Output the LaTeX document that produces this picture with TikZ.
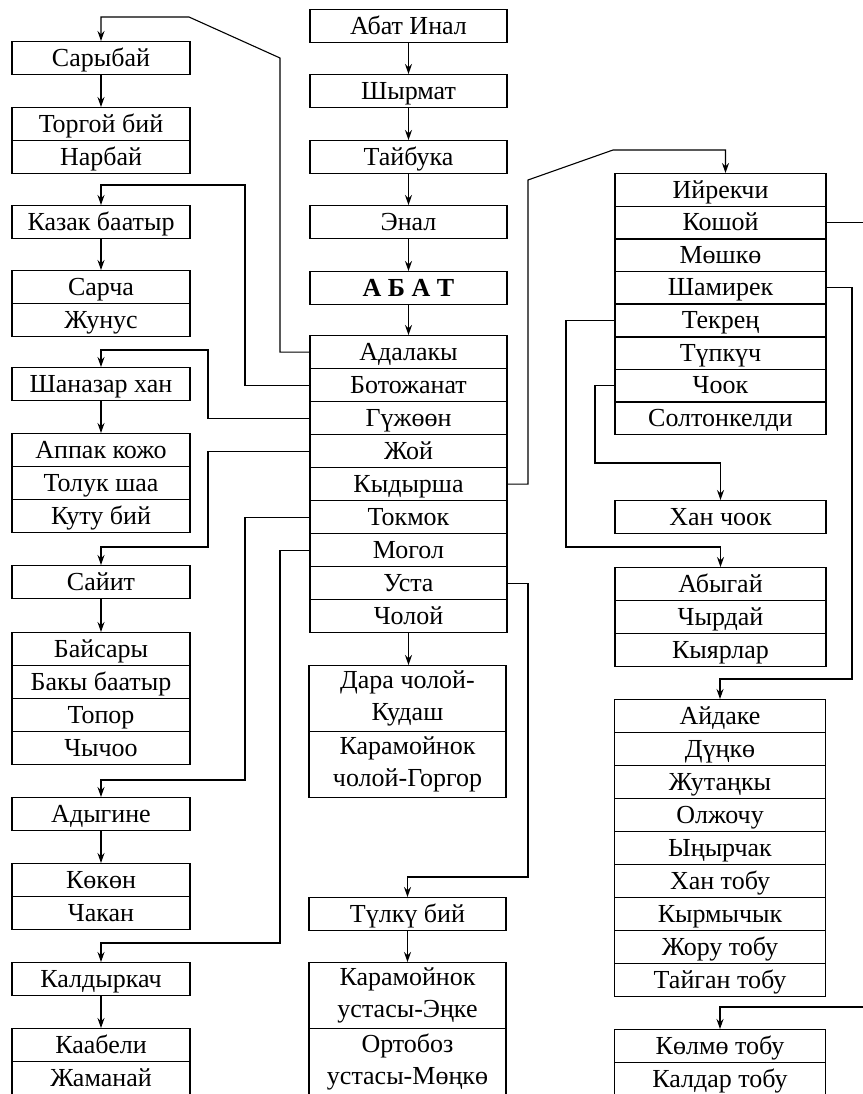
\documentclass[tikz,border=0pt]{standalone}
\usepackage{fontspec}
\setmainfont{Liberation Serif}
\usetikzlibrary{arrows.meta}
\begin{document}
\begin{tikzpicture}[x=1pt,y=-1pt,
  base/.style={draw, line width=1.1pt, anchor=north, inner sep=0pt},
  cell/.style={base, minimum height=33pt, text height=19pt, text depth=3pt, font=\fontsize{26}{28}\selectfont},
  lcell/.style={cell, minimum width=178pt},
  ccell/.style={cell, minimum width=197pt},
  rcell/.style={cell, minimum width=211pt},
  tallcell/.style={base, minimum width=197pt, minimum height=66pt, align=center, font=\fontsize{26}{32}\selectfont},
  conn/.style={line width=1.1pt, -{Stealth[length=10pt,width=7pt]}}]
\useasboundingbox (0,0) rectangle (862,1094);
% left column
\node[lcell] (sarybai) at (101,41) {Сарыбай};
\node[lcell] (torgoi) at (101,107) {Торгой бий};
\node[lcell] (narbai) at (101,140) {Нарбай};
\node[lcell] (kazak) at (101,205) {Казак баатыр};
\node[lcell] (sarcha) at (101,270) {Сарча};
\node[lcell] (zhunus) at (101,303) {Жунус};
\node[lcell] (shanazar) at (101,367) {Шаназар хан};
\node[lcell] (appak) at (101,433) {Аппак кожо};
\node[lcell] (toluk) at (101,466) {Толук шаа};
\node[lcell] (kutu) at (101,499) {Куту бий};
\node[lcell] (saiyt) at (101,565) {Сайит};
\node[lcell] (baisary) at (101,632) {Байсары};
\node[lcell] (baky) at (101,665) {Бакы баатыр};
\node[lcell] (topor) at (101,698) {Топор};
\node[lcell] (chychoo) at (101,731) {Чычоо};
\node[lcell] (adygine) at (101,797) {Адыгине};
\node[lcell] (kokon) at (101,863) {Көкөн};
\node[lcell] (chakan) at (101,896) {Чакан};
\node[lcell] (kaldyrkach) at (101,962) {Калдыркач};
\node[lcell] (kaabeli) at (101,1028) {Каабели};
\node[lcell] (zhamanai) at (101,1061) {Жаманай};
% centre column
\node[ccell] (abatinal) at (408.5,9) {Абат Инал};
\node[ccell] (shyrmat) at (408.5,74) {Шырмат};
\node[ccell] (taibuka) at (408.5,140) {Тайбука};
\node[ccell] (enal) at (408.5,205) {Энал};
\node[ccell] (abat) at (408.5,271) {\textbf{А Б А Т}};
\node[ccell] (adalaky) at (408.5,335) {Адалакы};
\node[ccell] (botozhanat) at (408.5,368) {Ботожанат};
\node[ccell] (guzhoon) at (408.5,401) {Гүжөөн};
\node[ccell] (zhoi) at (408.5,434) {Жой};
\node[ccell] (kydyrsha) at (408.5,467) {Кыдырша};
\node[ccell] (tokmok) at (408.5,500) {Токмок};
\node[ccell] (mogol) at (408.5,533) {Могол};
\node[ccell] (usta) at (408.5,566) {Уста};
\node[ccell] (choloi) at (408.5,599) {Чолой};
\node[tallcell] (dara) at (407.5,665) {Дара чолой-\\Кудаш};
\node[tallcell] (gorgor) at (407.5,731) {Карамойнок\\чолой-Горгор};
\node[ccell] (tulku) at (407.5,897) {Түлкү бий};
\node[tallcell] (enke) at (407.5,962) {Карамойнок\\устасы-Эңке};
\node[tallcell] (monko) at (407.5,1028) {Ортобоз\\устасы-Мөңкө};
% right column
\node[rcell] (iirekchi) at (720.5,173) {Ийрекчи};
\node[rcell] (koshoi) at (720.5,205.6) {Кошой};
\node[rcell] (moshko) at (720.5,238.2) {Мөшкө};
\node[rcell] (shamirek) at (720.5,270.8) {Шамирек};
\node[rcell] (tekren) at (720.5,303.4) {Текрең};
\node[rcell] (tupkuch) at (720.5,336) {Түпкүч};
\node[rcell] (chook) at (720.5,368.6) {Чоок};
\node[rcell] (solton) at (720.5,401.2) {Солтонкелди};
\node[rcell] (khanchook) at (720.5,500) {Хан чоок};
\node[rcell] (abygai) at (720.5,567) {Абыгай};
\node[rcell] (chyrdai) at (720.5,600) {Чырдай};
\node[rcell] (kyiarlar) at (720.5,633) {Кыярлар};
\node[rcell] (aidake) at (720,699) {Айдаке};
\node[rcell] (dunko) at (720,732) {Дүңкө};
\node[rcell] (zhutanky) at (720,765) {Жутаңкы};
\node[rcell] (olzhochu) at (720,798) {Олжочу};
\node[rcell] (ynyrchak) at (720,831) {Ыңырчак};
\node[rcell] (khantobu) at (720,864) {Хан тобу};
\node[rcell] (kyrmychyk) at (720,897) {Кырмычык};
\node[rcell] (zhoru) at (720,930) {Жору тобу};
\node[rcell] (taigan) at (720,963) {Тайган тобу};
\node[rcell] (kolmo) at (720,1029) {Көлмө тобу};
\node[rcell] (kaldar) at (720,1062) {Калдар тобу};
% vertical chains
\draw[conn] (sarybai) -- (torgoi);
\draw[conn] (kazak) -- (sarcha);
\draw[conn] (shanazar) -- (appak);
\draw[conn] (saiyt) -- (baisary);
\draw[conn] (adygine) -- (kokon);
\draw[conn] (kaldyrkach) -- (kaabeli);
\draw[conn] (abatinal) -- (shyrmat);
\draw[conn] (shyrmat) -- (taibuka);
\draw[conn] (taibuka) -- (enal);
\draw[conn] (enal) -- (abat);
\draw[conn] (abat) -- (adalaky);
\draw[conn] (choloi.south) -- (choloi.south |- dara.north);
\draw[conn] (tulku) -- (enke);
% branches to the left
\draw[conn] (adalaky.west) -| (280,58) -- (189,17) -| (sarybai.north);
\draw[conn] (botozhanat.west) -| (245,185) -| (kazak.north);
\draw[conn] (guzhoon.west) -| (208,350) -| (shanazar.north);
\draw[conn] (zhoi.west) -| (208,547) -| (saiyt.north);
\draw[conn] (tokmok.west) -| (245,780) -| (adygine.north);
\draw[conn] (mogol.west) -| (280,943) -| (kaldyrkach.north);
% branches to the right
\draw[conn] (usta.east) -| (528,877) -| (tulku.north);
\draw[conn] (kydyrsha.east) -| (528,180) -- (613,150) -| ([xshift=5pt]iirekchi.north);
\draw[conn] (koshoi.east) -| (872,1007) -| (kolmo.north);
\draw[conn] (shamirek.east) -| (852,679) -| (aidake.north);
\draw[conn] (tekren.west) -| (566,547) -| (abygai.north);
\draw[conn] (chook.west) -| (595,463) -| (khanchook.north);
\end{tikzpicture}
\end{document}
